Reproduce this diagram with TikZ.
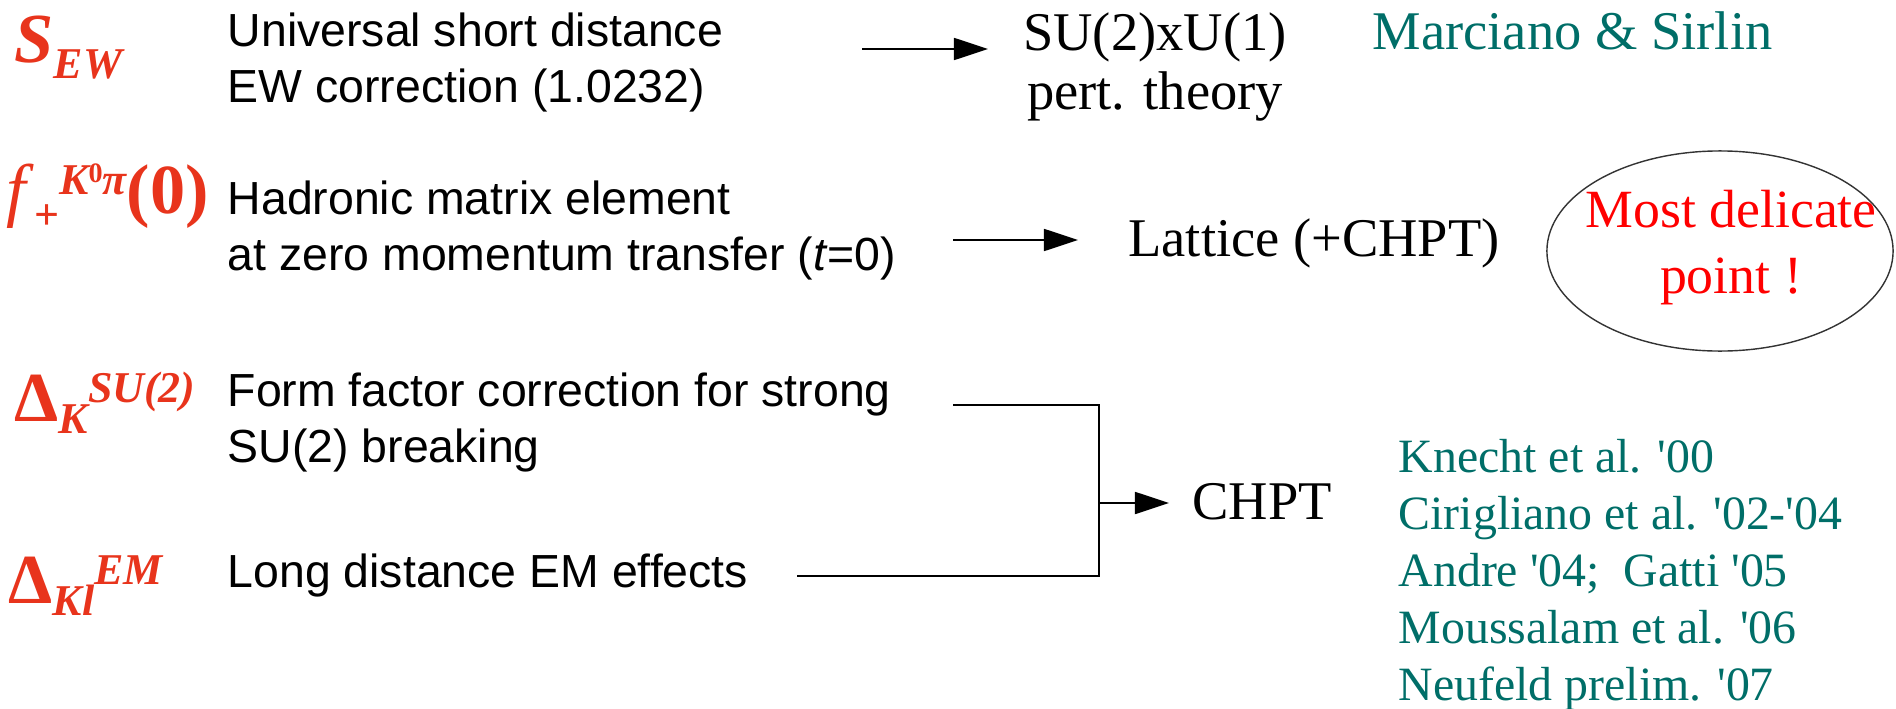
\documentclass[tikz,border=0pt]{standalone}
\usepackage{fontspec}
\setmainfont{Liberation Serif}
\setsansfont{Liberation Sans}
\usetikzlibrary{arrows.meta,shapes.geometric}
\definecolor{symred}{RGB}{232,52,28}
\definecolor{refteal}{RGB}{0,110,104}
\newcommand{\bigsym}{\fontsize{20}{20}\selectfont}
\newcommand{\smallsym}{\fontsize{12.5}{12.5}\selectfont}
\newcommand{\apo}{\textquotesingle}

\begin{document}
\begin{tikzpicture}[x=0.01cm, y=-0.01cm,
  desc/.style={anchor=base west, inner sep=0pt, align=left,
    font=\sffamily\fontsize{13.2}{15.7}\selectfont},
  sym/.style={anchor=base west, inner sep=0pt, text=symred, font=\bfseries\itshape},
  res/.style={anchor=base, inner sep=0pt, align=center,
    font=\fontsize{15.5}{17}\selectfont},
  ref/.style={anchor=base west, inner sep=0pt, align=left, text=refteal,
    font=\fontsize{13.6}{16.2}\selectfont},
  arrow/.style={-{Triangle[length=3.4mm,width=2.2mm]}, line width=0.5pt}
]
\useasboundingbox (0,0) rectangle (1896,709);

% correction factors (multi-line nodes sit on their last baseline)
\node[sym] (sew) at (14,63) {{\bigsym S}\raisebox{-0.15cm}{\smallsym EW}};
\node[sym] (fplus) at (6,213) {{\bigsym\mdseries f}\kern0.08cm\raisebox{-0.16cm}{\smallsym\upshape +}%
  \raisebox{0.18cm}{\smallsym K\raisebox{0.12cm}{\fontsize{8}{8}\selectfont\upshape 0}π}{\bigsym\upshape(0)}};
\node[sym] (dsu) at (14,421) {{\bigsym\upshape Δ}\raisebox{-0.12cm}{\smallsym K}\raisebox{0.18cm}{\smallsym SU(2)}};
\node[sym] (dem) at (8,603) {{\bigsym\upshape Δ}\raisebox{-0.12cm}{\smallsym Kl}\raisebox{0.18cm}{\smallsym EM}};

\node[desc] (ew) at (227,102) {Universal short distance\\EW correction (1.0232)};
\node[desc] (had) at (227,270) {Hadronic matrix element\\at zero momentum transfer (\textit{t}=0)};
\node[desc] (iso) at (227,462) {Form factor correction for strong\\SU(2) breaking};
\node[desc] (lde) at (227,587) {Long distance EM effects};

% where they come from
\node[res] (pt) at (1155,110) {SU(2)xU(1)\\pert. theory};
\node[res, anchor=base west] (ms) at (1372,49) {\color{refteal}Marciano \& Sirlin};
\node[res] (lat) at (1314,256) {Lattice (+CHPT)};
\node[draw=black!80, line width=0.4pt, ellipse, minimum width=3.46cm, minimum height=2cm,
  inner sep=0pt] (note) at (1720,251) {};
\node[res, text=red, font=\fontsize{15.3}{18.5}\selectfont] (notetext) at (1731,293) {Most delicate\\point !};
\node[res] (chpt) at (1262,519) {CHPT};
\node[ref] (refs) at (1398,700) {Knecht et al. \apo00\\Cirigliano et al. \apo02-\apo04\\Andre \apo04;~ Gatti \apo05\\Moussalam et al. \apo06\\Neufeld prelim. \apo07};

\coordinate (a1) at (862,49);
\coordinate (t1) at (988,49);
\coordinate (a2) at (953,240);
\coordinate (t2) at (1078,240);
\coordinate (s3) at (953,405);
\coordinate (s4) at (797,576);
\coordinate (j) at (1099,503);
\coordinate (t3) at (1169,503);

\draw[arrow] (a1) -- (t1);
\draw[arrow] (a2) -- (t2);
\draw[line width=0.5pt] (s3) -| (j) |- (s4);
\draw[arrow] (j) -- (t3);
\end{tikzpicture}
\end{document}
